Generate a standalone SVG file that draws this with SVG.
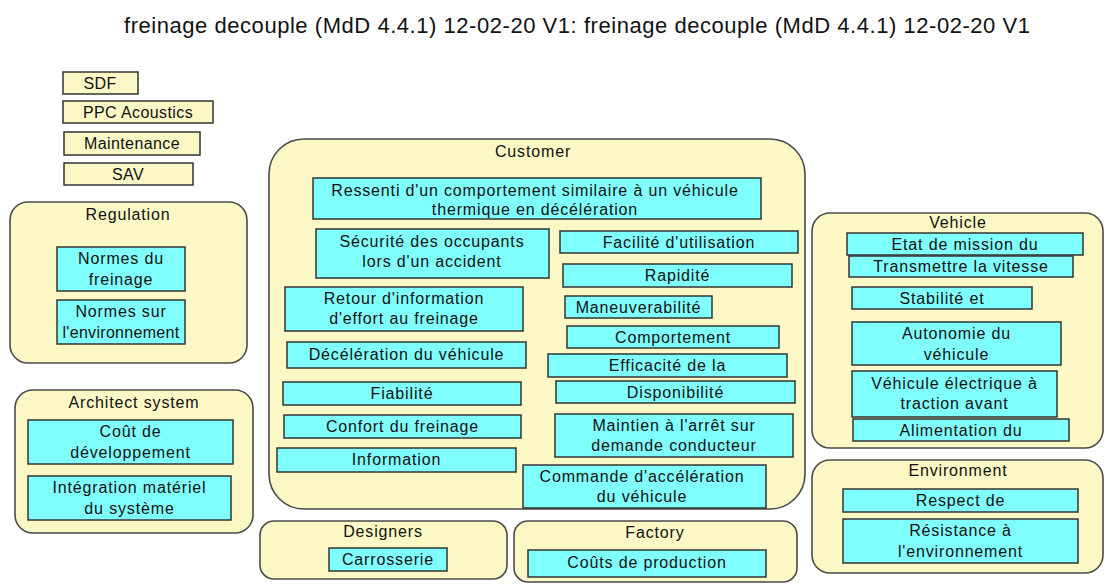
<svg xmlns="http://www.w3.org/2000/svg" width="1107" height="584" viewBox="0 0 1107 584">
  <style>
    text { font-family: "Liberation Sans", Arial, sans-serif; font-size: 16px; fill: #111; letter-spacing: 0.85px; }
    .c { text-anchor: middle; }
    .title { font-size: 22px; letter-spacing: 0; }
    .k { letter-spacing: 0.4px; }
    .grp { fill: #FCF8C6; stroke: #4a4a4a; stroke-width: 1.6; }
    .req { fill: #80FFFF; stroke: #333; stroke-width: 1.5; }
    .key { fill: #FCF8C6; stroke: #333; stroke-width: 1.5; }
  </style>

  <rect x="0" y="0" width="1107" height="584" fill="#ffffff"/>

  <text class="title" x="124" y="33" textLength="906" lengthAdjust="spacing">freinage decouple (MdD 4.4.1) 12-02-20 V1: freinage decouple (MdD 4.4.1) 12-02-20 V1</text>

  <!-- stakeholder key -->
  <g id="key-sdf"><rect class="key" x="63" y="72" width="75" height="22"/><text class="c k" x="100" y="89">SDF</text></g>
  <g id="key-ppc"><rect class="key" x="63" y="101" width="150" height="22"/><text class="c k" x="138" y="118">PPC Acoustics</text></g>
  <g id="key-maintenance"><rect class="key" x="64" y="132" width="136" height="23"/><text class="c k" x="132" y="149">Maintenance</text></g>
  <g id="key-sav"><rect class="key" x="64" y="163" width="129" height="22"/><text class="c k" x="128" y="180">SAV</text></g>

  <!-- Regulation -->
  <g id="regulation">
    <rect class="grp" x="10" y="202" width="237" height="161" rx="18"/>
    <text class="c" x="128" y="220">Regulation</text>
  </g>
  <g id="normes-freinage"><rect class="req" x="57" y="247" width="128" height="44"/><text class="c" x="121" y="264">Normes du</text><text class="c" x="121" y="285">freinage</text></g>
  <g id="normes-environnement"><rect class="req" x="57" y="300" width="128" height="44"/><text class="c" x="121" y="317">Normes sur</text><text class="c" x="121" y="338" style="letter-spacing:0.3px">l'environnement</text></g>

  <!-- Architect system -->
  <g id="architect-system">
    <rect class="grp" x="15" y="390" width="238" height="143" rx="18"/>
    <text class="c" x="134" y="408">Architect system</text>
  </g>
  <g id="cout-developpement"><rect class="req" x="28" y="420" width="205" height="44"/><text class="c" x="130.5" y="437">Coût de</text><text class="c" x="130.5" y="458">développement</text></g>
  <g id="integration-materiel"><rect class="req" x="28" y="476" width="203" height="44"/><text class="c" x="129.5" y="493">Intégration matériel</text><text class="c" x="129.5" y="514">du système</text></g>

  <!-- Customer -->
  <g id="customer">
    <rect class="grp" x="269" y="139" width="536" height="370" rx="35"/>
    <text class="c" x="533" y="157">Customer</text>
  </g>
  <g id="ressenti"><rect class="req" x="313" y="178" width="448" height="41"/><text class="c" x="535" y="196">Ressenti d'un comportement similaire à un véhicule</text><text class="c" x="535" y="215">thermique en décélération</text></g>
  <g id="securite"><rect class="req" x="316" y="229" width="233" height="49"/><text class="c" x="432" y="247">Sécurité des occupants</text><text class="c" x="432" y="267">lors d'un accident</text></g>
  <g id="facilite"><rect class="req" x="560" y="231" width="238" height="22"/><text class="c" x="679" y="248">Facilité d'utilisation</text></g>
  <g id="rapidite"><rect class="req" x="563" y="264" width="229" height="23"/><text class="c" x="677.5" y="281">Rapidité</text></g>
  <g id="retour-information"><rect class="req" x="285" y="287" width="238" height="44"/><text class="c" x="404" y="304">Retour d'information</text><text class="c" x="404" y="324">d'effort au freinage</text></g>
  <g id="maneuverabilite"><rect class="req" x="565" y="296" width="147" height="22"/><text class="c" x="638.5" y="313">Maneuverabilité</text></g>
  <g id="comportement"><rect class="req" x="567" y="326" width="212" height="22"/><text class="c" x="673" y="343">Comportement</text></g>
  <g id="deceleration"><rect class="req" x="287" y="342" width="239" height="26"/><text class="c" x="406.5" y="360">Décélération du véhicule</text></g>
  <g id="efficacite"><rect class="req" x="548" y="354" width="239" height="23"/><text class="c" x="667.5" y="371">Efficacité de la</text></g>
  <g id="fiabilite"><rect class="req" x="283" y="382" width="238" height="23"/><text class="c" x="402" y="399">Fiabilité</text></g>
  <g id="disponibilite"><rect class="req" x="556" y="381" width="239" height="22"/><text class="c" x="675.5" y="398">Disponibilité</text></g>
  <g id="confort"><rect class="req" x="284" y="415" width="237" height="23"/><text class="c" x="402.5" y="432">Confort du freinage</text></g>
  <g id="maintien"><rect class="req" x="555" y="414" width="238" height="43"/><text class="c" x="674" y="431">Maintien à l'arrêt sur</text><text class="c" x="674" y="451">demande conducteur</text></g>
  <g id="information"><rect class="req" x="277" y="448" width="239" height="24"/><text class="c" x="396.5" y="465">Information</text></g>
  <g id="commande-acceleration"><rect class="req" x="523" y="465" width="243" height="43"/><text class="c" x="642" y="482">Commande d'accélération</text><text class="c" x="642" y="502">du véhicule</text></g>

  <!-- Vehicle -->
  <g id="vehicle">
    <rect class="grp" x="812" y="213" width="291" height="235" rx="18"/>
    <text class="c" x="958" y="228">Vehicle</text>
  </g>
  <g id="etat-mission"><rect class="req" x="847" y="233" width="236" height="22"/><text class="c" x="965" y="250">Etat de mission du</text></g>
  <g id="transmettre-vitesse"><rect class="req" x="849" y="256" width="224" height="21"/><text class="c" x="961" y="272">Transmettre la vitesse</text></g>
  <g id="stabilite"><rect class="req" x="852" y="287" width="180" height="22"/><text class="c" x="942" y="304">Stabilité et</text></g>
  <g id="autonomie"><rect class="req" x="852" y="322" width="209" height="43"/><text class="c" x="956.5" y="339">Autonomie du</text><text class="c" x="956.5" y="360">véhicule</text></g>
  <g id="vehicule-electrique"><rect class="req" x="852" y="371" width="205" height="46"/><text class="c" x="954.5" y="389">Véhicule électrique à</text><text class="c" x="954.5" y="409">traction avant</text></g>
  <g id="alimentation"><rect class="req" x="853" y="419" width="216" height="22"/><text class="c" x="961" y="436">Alimentation du</text></g>

  <!-- Environment -->
  <g id="environment">
    <rect class="grp" x="812" y="460" width="291" height="113" rx="18"/>
    <text class="c" x="958" y="476">Environment</text>
  </g>
  <g id="respect"><rect class="req" x="843" y="489" width="235" height="23"/><text class="c" x="960.5" y="506">Respect de</text></g>
  <g id="resistance"><rect class="req" x="843" y="519" width="235" height="44"/><text class="c" x="960.5" y="536">Résistance à</text><text class="c" x="960.5" y="557">l'environnement</text></g>

  <!-- Designers -->
  <g id="designers">
    <rect class="grp" x="260" y="521" width="247" height="58" rx="14"/>
    <text class="c" x="383" y="537">Designers</text>
  </g>
  <g id="carrosserie"><rect class="req" x="329" y="548" width="118" height="23"/><text class="c" x="388" y="565">Carrosserie</text></g>

  <!-- Factory -->
  <g id="factory">
    <rect class="grp" x="514" y="521" width="283" height="61" rx="14"/>
    <text class="c" x="655" y="538">Factory</text>
  </g>
  <g id="couts-production"><rect class="req" x="528" y="550" width="238" height="27"/><text class="c" x="647" y="568">Coûts de production</text></g>

  <g id="connectors"/>
</svg>
